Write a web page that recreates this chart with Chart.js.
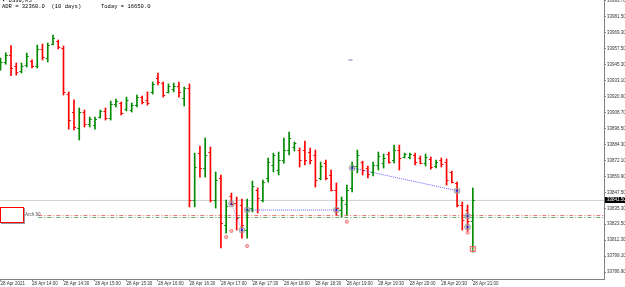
<!DOCTYPE html>
<html>
<head>
<meta charset="utf-8">
<script src="https://cdn.jsdelivr.net/npm/chart.js@4.4.1/dist/chart.umd.min.js"></script>
<style>
  html, body { margin: 0; padding: 0; background: #fff; }
  #wrap { position: relative; width: 625px; height: 287px; overflow: hidden; }
  #chart { position: absolute; left: 0; top: 0; }
  .hdr { position: absolute; left: 2px; font-family: "Liberation Mono", monospace; font-size: 5.5px; line-height: 6px; color: #000; white-space: pre; }
  .objBox { position: absolute; left: 0; top: 207px; width: 22px; height: 14px; border: 1px solid #ff0000; background: #fff; box-shadow: 1px 1px 0 #9a9a9a; }
  .objLabel { position: absolute; left: 25px; top: 212px; font-family: "Liberation Sans", sans-serif; font-size: 4.5px; color: #555; }
</style>
</head>
<body>
<div id="wrap">
  <canvas id="chart" width="625" height="287"></canvas>
  <div class="hdr" style="top:-2px;">▾ US30,M5</div>
  <div class="hdr" style="top:4px;">ADR = 32360.0  (10 days)      Today = 16650.0</div>
  <div class="objBox"></div>
  <div class="objLabel">Arch.90</div>
</div>
<script>
// ── M5 bars, 13:30 .. 21:00 ──
var opens = [
  33943.2, 33947.0, 33952.4, 33944.0, 33940.2, 33944.7, 33947.8, 33944.0, 33956.9, 33950.1,
  33960.7, 33963.0, 33957.7, 33922.6, 33908.9, 33896.7, 33908.9, 33899.8, 33899.0, 33905.1,
  33909.7, 33904.3, 33915.0, 33915.8, 33911.2, 33910.4, 33914.2, 33920.3, 33918.1, 33924.2,
  33934.8, 33931.0, 33924.2, 33926.4, 33928.7, 33919.6, 33927.2, 33841.8, 33877.6, 33866.2,
  33878.4, 33841.8, 33858.6, 33822.7, 33844.9, 33839.5, 33838.0, 33818.9, 33835.7, 33849.4,
  33841.8, 33858.6, 33868.5, 33864.7, 33872.3, 33879.9, 33882.2, 33879.9, 33879.9, 33878.4,
  33876.1, 33858.6, 33870.0, 33860.9, 33849.4, 33834.2, 33838.8, 33851.0, 33867.7, 33870.8,
  33866.2, 33863.2, 33868.5, 33870.0, 33876.9, 33872.3, 33879.9, 33874.6, 33874.6, 33876.1,
  33873.8, 33870.0, 33873.1, 33867.7, 33872.3, 33870.8, 33863.2, 33854.8, 33838.0, 33834.2,
  33825.8
];
var highs = [
  33950.1, 33954.1, 33959.5, 33946.3, 33946.3, 33953.9, 33948.6, 33960.0, 33960.7, 33961.5,
  33967.6, 33963.8, 33959.2, 33924.2, 33918.1, 33912.0, 33910.4, 33905.1, 33905.1, 33910.4,
  33912.0, 33917.3, 33918.8, 33916.5, 33920.3, 33915.8, 33921.9, 33921.1, 33924.2, 33931.8,
  33938.6, 33931.8, 33930.3, 33931.0, 33931.8, 33928.0, 33930.3, 33877.6, 33883.0, 33889.1,
  33882.2, 33863.2, 33860.9, 33841.8, 33847.1, 33844.1, 33842.6, 33842.6, 33856.3, 33851.0,
  33857.1, 33873.8, 33877.6, 33878.4, 33889.1, 33893.7, 33886.0, 33881.5, 33886.8, 33881.5,
  33879.9, 33870.8, 33872.3, 33864.7, 33854.8, 33844.1, 33853.2, 33870.8, 33879.9, 33871.5,
  33867.7, 33870.8, 33878.4, 33876.9, 33878.4, 33883.7, 33883.7, 33877.6, 33877.6, 33877.6,
  33875.4, 33876.9, 33874.6, 33872.3, 33873.8, 33873.1, 33863.9, 33855.5, 33840.3, 33838.0,
  33851.0
];
var lows = [
  33940.9, 33945.3, 33936.6, 33937.1, 33938.6, 33943.2, 33942.5, 33942.5, 33948.6, 33947.0,
  33960.0, 33956.9, 33921.9, 33895.9, 33895.2, 33887.6, 33897.5, 33897.5, 33895.9, 33904.3,
  33902.8, 33902.8, 33912.7, 33906.6, 33909.7, 33908.9, 33912.7, 33915.0, 33914.2, 33922.6,
  33929.5, 33920.3, 33923.4, 33924.2, 33920.3, 33913.5, 33836.5, 33836.5, 33859.3, 33859.3,
  33840.3, 33835.7, 33805.2, 33816.6, 33838.0, 33818.9, 33812.8, 33812.8, 33832.7, 33831.9,
  33840.3, 33855.5, 33863.2, 33860.9, 33870.0, 33876.1, 33879.2, 33867.0, 33868.5, 33869.3,
  33851.7, 33857.1, 33857.1, 33848.7, 33830.4, 33828.8, 33830.4, 33847.9, 33862.4, 33860.9,
  33858.6, 33860.1, 33864.7, 33866.2, 33870.0, 33870.0, 33864.7, 33873.8, 33873.1, 33868.5,
  33869.3, 33867.7, 33865.4, 33866.2, 33867.0, 33853.2, 33854.8, 33836.5, 33818.9, 33817.4,
  33802.2
];
var closes = [
  33947.0, 33952.4, 33942.5, 33939.4, 33944.0, 33951.6, 33944.0, 33956.9, 33950.8, 33960.0,
  33965.3, 33958.5, 33924.2, 33902.8, 33897.5, 33908.9, 33899.8, 33903.6, 33903.6, 33909.7,
  33904.3, 33915.0, 33917.3, 33908.1, 33918.1, 33914.2, 33920.3, 33916.5, 33915.8, 33930.3,
  33931.8, 33921.9, 33928.7, 33928.7, 33924.2, 33927.2, 33841.8, 33867.0, 33866.2, 33876.1,
  33841.8, 33857.1, 33824.3, 33837.2, 33838.8, 33828.1, 33822.7, 33834.2, 33852.5, 33843.3,
  33855.5, 33870.8, 33876.1, 33872.3, 33879.9, 33889.1, 33885.3, 33872.3, 33872.3, 33872.3,
  33857.1, 33867.7, 33858.6, 33849.4, 33835.7, 33841.8, 33849.4, 33867.7, 33876.1, 33864.7,
  33861.6, 33868.5, 33875.4, 33873.8, 33870.8, 33879.9, 33873.8, 33876.9, 33876.9, 33870.8,
  33870.0, 33874.6, 33867.0, 33870.8, 33869.3, 33857.1, 33855.5, 33838.0, 33826.6, 33825.8,
  33841.5
];

// ── 축 라벨 ──
var timeLabels = [
  '28 Apr 2021', '28 Apr 14:00', '28 Apr 14:30', '28 Apr 15:00', '28 Apr 15:30', '28 Apr 16:00',
  '28 Apr 16:30', '28 Apr 17:00', '28 Apr 17:30', '28 Apr 18:00', '28 Apr 18:30', '28 Apr 19:00',
  '28 Apr 19:30', '28 Apr 20:00', '28 Apr 20:30', '28 Apr 21:00'
];
var barsPerLabel = 6;
var priceTicks = [
  33786.9, 33799.1, 33811.3, 33823.5, 33835.3, 33847.5, 33859.9, 33872.1, 33884.3,
  33896.5, 33908.7, 33920.9, 33933.1, 33945.3, 33957.5, 33969.3, 33981.5, 33993.7
];

// ── 지표/오브젝트 ──
var zigzagA = [{ x: 44, y: 33838.8 }, { x: 46, y: 33818.9 }];
var zigzagB = [{ x: 47, y: 33834.2 }, { x: 64, y: 33834.2 }];
var zigzagC = [{ x: 67, y: 33866.2 }, { x: 87, y: 33848.9 }];
var pivots = [
  { x: 44, y: 33838.8 }, { x: 46, y: 33818.9 }, { x: 47, y: 33834.2 }, { x: 64, y: 33834.2 },
  { x: 67, y: 33866.2 }, { x: 87, y: 33848.9 }, { x: 89, y: 33829.6 }, { x: 89, y: 33821.2 }
];
var arrowMarks = [
  { x: 43, y: 33813.6 }, { x: 44, y: 33818.2 }, { x: 47, y: 33806.7 }, { x: 66, y: 33825.3 }, { x: 89, y: 33816.9 }
];
var boxMark = [{ x: 90, y: 33804.4 }];
var stray = [{ x: 66.7, y: 33948.6 }];
var redLevel = 33830.0;
var greenLevel = 33828.5;
var levelStart = 7.2;

var xMin = -0.1, xMax = 115;
var yMin = 33781.6, yMax = 33994.3;
var lastClose = closes[closes.length - 1];

var upColor = '#008a00';
var downColor = '#ff0000';
var barColors = closes.map(function(c, i) { return c >= opens[i] ? upColor : downColor; });

// ── OHLC 시가/종가 눈금 ──
var ohlcTicks = {
  id: 'ohlcTicks',
  afterDatasetsDraw: function(chart) {
    var idx = chart.data.datasets.findIndex(function(d) { return d.label === 'bars'; });
    var meta = chart.getDatasetMeta(idx);
    var ys = chart.scales.y;
    var ctx = chart.ctx;
    ctx.save();
    ctx.beginPath();
    ctx.rect(chart.chartArea.left, chart.chartArea.top, chart.chartArea.width, chart.chartArea.height);
    ctx.clip();
    ctx.lineWidth = 1;
    meta.data.forEach(function(bar, i) {
      var yo = Math.round(ys.getPixelForValue(opens[i])) + 0.5;
      var yc = Math.round(ys.getPixelForValue(closes[i])) + 0.5;
      ctx.strokeStyle = barColors[i];
      ctx.beginPath();
      ctx.moveTo(bar.x - 2, yo); ctx.lineTo(bar.x, yo);
      ctx.moveTo(bar.x, yc); ctx.lineTo(bar.x + 2, yc);
      ctx.stroke();
    });
    ctx.restore();
  }
};

// ── 현재가 라벨 ──
var lastPriceTag = {
  id: 'lastPriceTag',
  afterDraw: function(chart) {
    var ys = chart.scales.y;
    var ctx = chart.ctx;
    var py = Math.round(ys.getPixelForValue(lastClose));
    ctx.save();
    ctx.fillStyle = '#000';
    ctx.fillRect(ys.left + 1, py - 3, ys.width, 6);
    ctx.fillStyle = '#fff';
    ctx.font = '4.5px "Liberation Sans"';
    ctx.textBaseline = 'middle';
    ctx.textAlign = 'left';
    ctx.fillText(lastClose.toFixed(2), ys.left + 3, py);
    ctx.restore();
  }
};

function levelLine(v, from) {
  return [{ x: from, y: v }, { x: xMax, y: v }];
}

var ctx = document.getElementById('chart').getContext('2d');
new Chart(ctx, {
  type: 'bar',
  data: {
    datasets: [
      { type: 'scatter', label: 'pivotDots', data: pivots, order: 0, pointRadius: 1, backgroundColor: '#1010ff', borderWidth: 0 },
      { type: 'scatter', label: 'pivots', data: pivots, order: 1, pointRadius: 3, backgroundColor: 'rgba(150,150,150,0.55)', borderColor: 'rgba(140,140,140,0.5)', borderWidth: 1 },
      { type: 'scatter', label: 'arrows', data: arrowMarks, order: 1, pointRadius: 1.6, backgroundColor: 'rgba(255,160,160,0.7)', borderColor: '#f08080', borderWidth: 1 },
      { type: 'scatter', label: 'box', data: boxMark, order: 1, pointStyle: 'rect', pointRadius: 3.5, backgroundColor: 'rgba(255,220,220,0.3)', borderColor: '#ff5050', borderWidth: 1 },
      { type: 'scatter', label: 'stray', data: stray, order: 1, pointStyle: 'line', pointRadius: 2, borderColor: '#7070d0', borderWidth: 1 },
      { type: 'line', label: 'zzA', data: zigzagA, order: 2, borderColor: 'rgba(90,90,255,0.6)', borderWidth: 1, borderDash: [1, 1], pointRadius: 0 },
      { type: 'line', label: 'zzB', data: zigzagB, order: 2, borderColor: 'rgba(60,60,255,0.8)', borderWidth: 1, borderDash: [1, 1], pointRadius: 0 },
      { type: 'line', label: 'zzC', data: zigzagC, order: 2, borderColor: 'rgba(60,60,255,0.8)', borderWidth: 1, borderDash: [1, 1], pointRadius: 0 },
      {
        label: 'bars',
        order: 5,
        data: highs.map(function(h, i) { return { x: i, y: [lows[i], h] }; }),
        backgroundColor: barColors,
        borderWidth: 0,
        barThickness: 1,
        grouped: false
      },
      { type: 'line', label: 'redLvl', data: levelLine(redLevel, levelStart), order: 10, borderColor: '#f07878', borderWidth: 1, borderDash: [4, 2, 1, 2], pointRadius: 0 },
      { type: 'line', label: 'greenLvl', data: levelLine(greenLevel, levelStart), order: 10, borderColor: '#60b060', borderWidth: 1, borderDash: [4, 2, 1, 2], pointRadius: 0 },
      { type: 'line', label: 'lastLvl', data: levelLine(lastClose, xMin), order: 11, borderColor: '#d0d0d0', borderWidth: 1, pointRadius: 0 }
    ]
  },
  options: {
    responsive: false,
    animation: false,
    devicePixelRatio: 1,
    layout: { padding: 0, autoPadding: false },
    plugins: { legend: { display: false }, tooltip: { enabled: false }, title: { display: false } },
    scales: {
      x: {
        type: 'linear',
        min: xMin,
        max: xMax,
        offset: false,
        afterBuildTicks: function(s) {
          s.ticks = timeLabels.map(function(_, k) { return { value: k * barsPerLabel }; });
        },
        afterFit: function(s) { s.height = 8; s.paddingLeft = 0; s.paddingRight = 0; },
        border: { display: true, color: '#808080', width: 1 },
        grid: { display: true, drawOnChartArea: false, drawTicks: true, tickLength: 2, color: '#808080', offset: false },
        ticks: {
          autoSkip: false,
          maxRotation: 0,
          align: 'start',
          padding: 0,
          color: '#333',
          font: { family: 'Liberation Sans', size: 4.5 },
          callback: function(v, i) { return timeLabels[i]; }
        }
      },
      y: {
        type: 'linear',
        position: 'right',
        min: yMin,
        max: yMax,
        afterBuildTicks: function(s) {
          s.ticks = priceTicks.map(function(v) { return { value: v }; });
        },
        afterFit: function(s) { s.width = 21; s.paddingTop = 0; s.paddingBottom = 0; },
        border: { display: true, color: '#808080', width: 1 },
        grid: { display: true, drawOnChartArea: false, drawTicks: true, tickLength: 2, color: '#808080' },
        ticks: {
          autoSkip: false,
          padding: 1,
          color: '#333',
          font: { family: 'Liberation Sans', size: 4.5 },
          callback: function(v) { return Number(v).toFixed(2); }
        }
      }
    }
  },
  plugins: [ohlcTicks, lastPriceTag]
});
</script>
</body>
</html>
